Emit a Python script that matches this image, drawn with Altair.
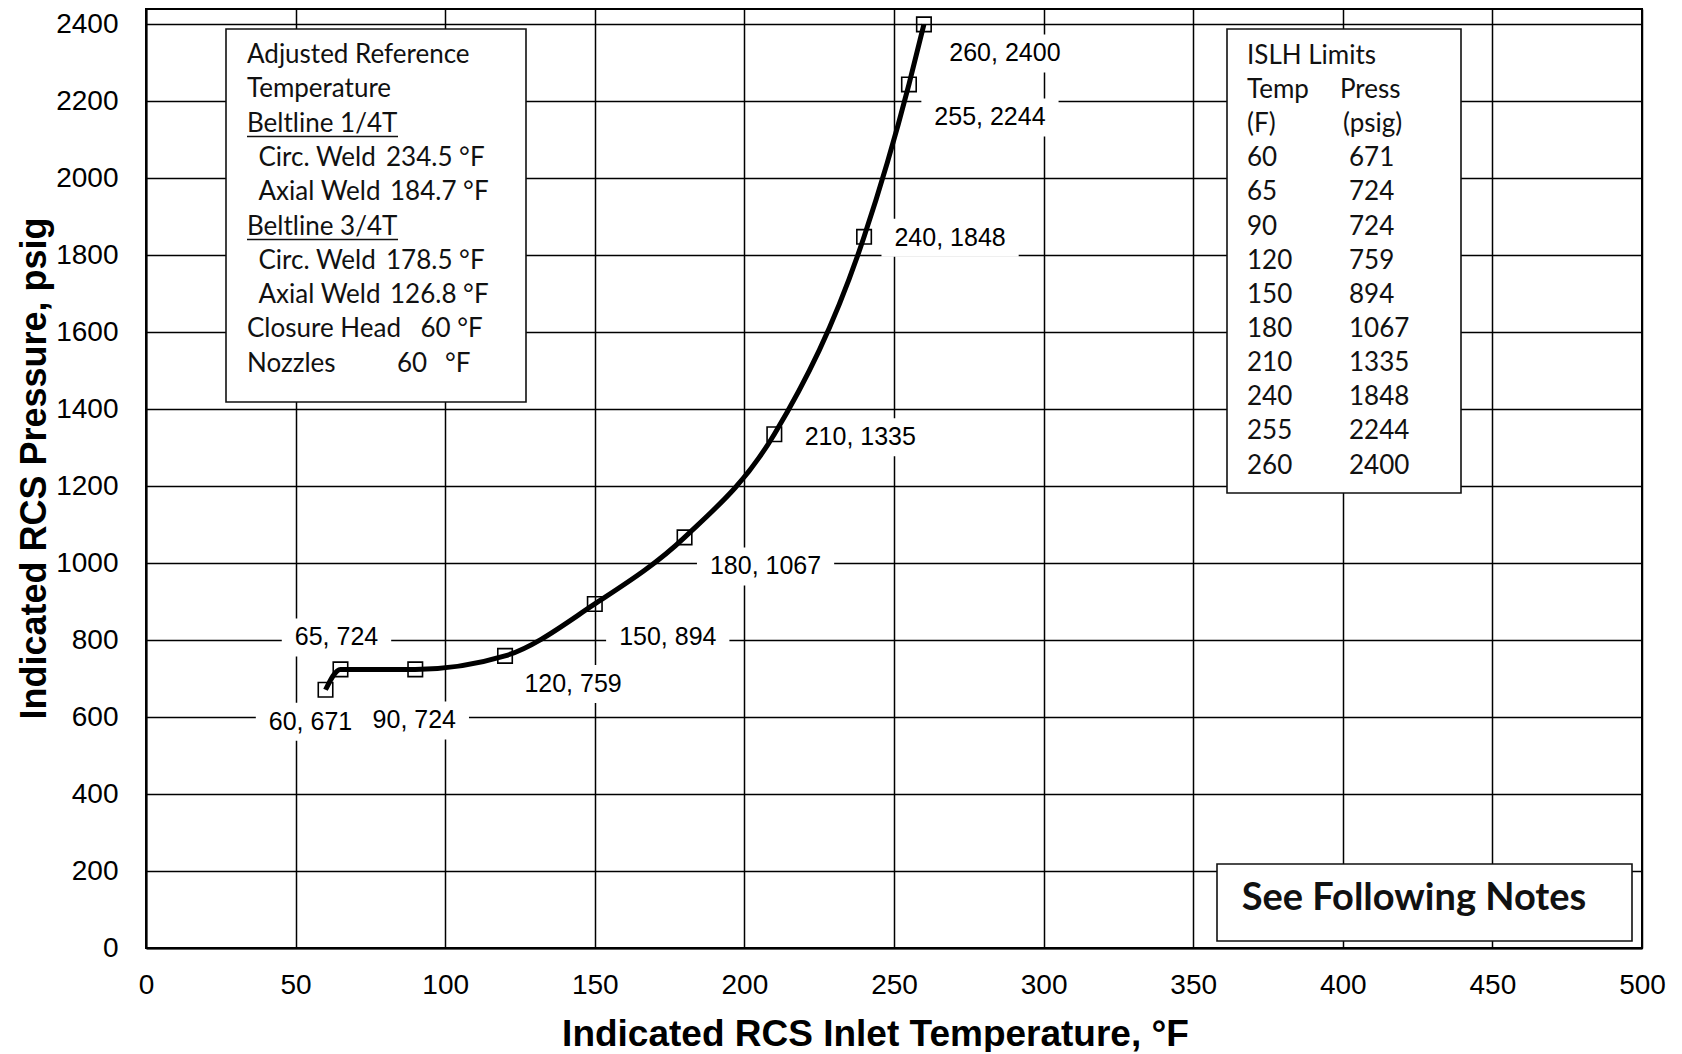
import altair as alt
import pandas as pd

# ---------------- data ----------------
temps = [60, 65, 90, 120, 150, 180, 210, 240, 255, 260]
press = [671, 724, 724, 759, 894, 1067, 1335, 1848, 2244, 2400]

x_ticks = [0, 50, 100, 150, 200, 250, 300, 350, 400, 450, 500]
y_ticks = [0, 200, 400, 600, 800, 1000, 1200, 1400, 1600, 1800, 2000, 2200, 2400]

ref_title = ["Adjusted Reference", "Temperature"]
ref_names = ["Circ. Weld", "Axial Weld", "Circ. Weld", "Axial Weld"]
ref_values = ["234.5 °F", "184.7 °F", "178.5 °F", "126.8 °F"]
ref_sections = ["Beltline 1/4T", "Beltline 3/4T"]
closure_text = ["Closure Head", "60 °F"]
nozzle_text = ["Nozzles", "60", "°F"]

islh_title = "ISLH Limits"
islh_head1 = ["Temp", "Press"]
islh_head2 = ["(F)", "(psig)"]
notes_text = "See Following Notes"

x_title = "Indicated RCS Inlet Temperature, °F"
y_title = "Indicated RCS Pressure, psig"

# ---------------- layout ----------------
W, H = 1496, 939
X_DOM = [0, 500]
Y_DOM = [0, 2440]
AX_FONT = "Liberation Sans, Arial, sans-serif"
BOX_FONT = "Lato, Carlito, sans-serif"
LBL_FS = 25
BOX_FS = 26

df = pd.DataFrame({"T": temps, "P": press})
df["label"] = [f"{t}, {p}" for t, p in zip(temps, press)]

xenc = alt.X("T:Q", scale=alt.Scale(domain=X_DOM, nice=False, zero=False),
             axis=alt.Axis(values=x_ticks, title=x_title, format="d"))
yenc = alt.Y("P:Q", scale=alt.Scale(domain=Y_DOM, nice=False, zero=False),
             axis=alt.Axis(values=y_ticks, title=y_title, format="d"))

base = alt.Chart(df)
layers = []

# label offsets (pixels) relative to each point
offsets = {60: (-15, 32), 65: (-4, -32), 90: (-1, 51), 120: (68, 28), 150: (73, 33),
           180: (81, 29), 210: (86, 3), 240: (86, 1), 255: (81, 33), 260: (81, 29)}

# white label backgrounds
for t, lab in zip(temps, df["label"]):
    dx, dy = offsets[t]
    ndig = sum(c.isdigit() for c in lab)
    w = (ndig * 0.556 + 0.556) * LBL_FS + 26
    h = 38
    path = f"M{dx - w/2:.1f},{dy - h/2:.1f}h{w:.1f}v{h}h{-w:.1f}Z"
    layers.append(
        base.transform_filter(alt.datum.T == t)
        .mark_point(shape=path, size=4, filled=True, color="white", opacity=1, strokeWidth=0)
        .encode(x=xenc, y=yenc)
    )

# curve and markers
layers.append(base.mark_line(color="black", strokeWidth=5, interpolate="monotone").encode(x=xenc, y=yenc))
layers.append(base.mark_point(shape="square", size=210, filled=False, color="black",
                              strokeWidth=1.6, opacity=1).encode(x=xenc, y=yenc))

# point labels
for t in temps:
    dx, dy = offsets[t]
    layers.append(
        base.transform_filter(alt.datum.T == t)
        .mark_text(dx=dx, dy=dy, font=AX_FONT, fontSize=LBL_FS, align="center",
                   baseline="middle", color="black")
        .encode(x=xenc, y=yenc, text="label:N")
    )

one = alt.Chart(pd.DataFrame({"a": [0]}))

def box(x1, x2, y1, y2):
    return one.mark_rect(fill="white", stroke="#111", strokeWidth=1.6).encode(
        x=alt.value(x1), x2=alt.value(x2), y=alt.value(y1), y2=alt.value(y2))

layers.append(box(80, 380, 20, 393))
layers.append(box(1081, 1315, 20, 484))
layers.append(box(1071, 1486, 855, 932))

# left box text
LH = 34.3
Y0 = 46
rows = []
rows.append((ref_title[0], 101, Y0))
rows.append((ref_title[1], 101, Y0 + LH))
rows.append((ref_sections[0], 101, Y0 + 2 * LH))
rows.append((ref_names[0], 112.5, Y0 + 3 * LH))
rows.append((ref_values[0], 240, Y0 + 3 * LH))
rows.append((ref_names[1], 112.5, Y0 + 4 * LH))
rows.append((ref_values[1], 244, Y0 + 4 * LH))
rows.append((ref_sections[1], 101, Y0 + 5 * LH))
rows.append((ref_names[2], 112.5, Y0 + 6 * LH))
rows.append((ref_values[2], 240, Y0 + 6 * LH))
rows.append((ref_names[3], 112.5, Y0 + 7 * LH))
rows.append((ref_values[3], 244, Y0 + 7 * LH))
rows.append((closure_text[0], 101, Y0 + 8 * LH))
rows.append((closure_text[1], 274.5, Y0 + 8 * LH))
rows.append((nozzle_text[0], 101, Y0 + 9 * LH))
rows.append((nozzle_text[1], 251, Y0 + 9 * LH))
rows.append((nozzle_text[2], 299, Y0 + 9 * LH))

# right box text
RH = 34.15
RY0 = 46.8
rows.append((islh_title, 1101, RY0))
rows.append((islh_head1[0], 1101, RY0 + RH))
rows.append((islh_head1[1], 1194, RY0 + RH))
rows.append((islh_head2[0], 1101, RY0 + 2 * RH))
rows.append((islh_head2[1], 1197, RY0 + 2 * RH))
for i, (t, p) in enumerate(zip(temps, press)):
    rows.append((str(t), 1101, RY0 + (3 + i) * RH))
    rows.append((str(p), 1203, RY0 + (3 + i) * RH))

tdf = pd.DataFrame(rows, columns=["txt", "px", "py"])
layers.append(
    alt.Chart(tdf).mark_text(align="left", baseline="middle", font=BOX_FONT, fontSize=BOX_FS, color="#111")
    .encode(x=alt.X("px:Q", scale=None, axis=None), y=alt.Y("py:Q", scale=None, axis=None), text="txt:N")
)

# underlines
for k in (2, 5):
    yy = Y0 + k * LH + 13
    layers.append(one.mark_rule(color="#111", strokeWidth=1.5).encode(
        x=alt.value(101), x2=alt.value(252), y=alt.value(yy)))

# notes text
layers.append(one.mark_text(align="center", baseline="middle", font=BOX_FONT, fontSize=38,
                            fontWeight="bold", color="#111", text=notes_text)
              .encode(x=alt.value(1268), y=alt.value(890)))

chart = alt.layer(*layers).properties(
    width=W, height=H,
    autosize=alt.AutoSizeParams(type="none"),
    padding={"left": 138, "top": 1, "right": 24, "bottom": 104},
).configure_view(
    stroke="black", strokeWidth=2
).configure_axis(
    grid=True, gridColor="black", gridWidth=1.5, gridOpacity=1,
    domainColor="black", domainWidth=2, ticks=False, tickSize=0, labelFlush=False,
    labelFont=AX_FONT, labelFontSize=28, labelColor="black",
    titleFont=AX_FONT, titleFontWeight="bold", titleColor="black",
).configure_axisX(
    labelPadding=37, labelBaseline="middle", titleFontSize=37,
    titleY=97, titleX=729, titleBaseline="alphabetic", titleAlign="center", titleAnchor="start",
).configure_axisY(
    labelPadding=28, titleFontSize=36,
    titleX=-101, titleY=459, titleBaseline="alphabetic", titleAlign="center", titleAnchor="start",
)

chart.save("out.html", embed_options={"renderer": "svg", "actions": False})
